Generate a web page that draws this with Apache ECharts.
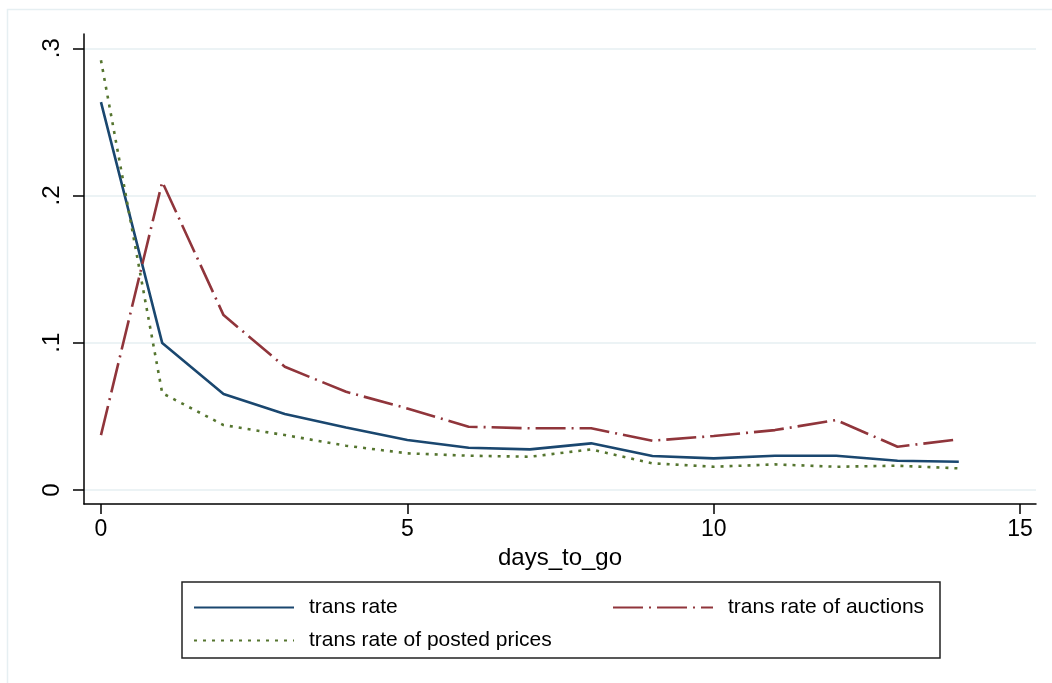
<!DOCTYPE html>
<html>
<head>
<meta charset="utf-8">
<script src="https://cdn.jsdelivr.net/npm/echarts@6/dist/echarts.min.js"></script>
<style>
html,body{margin:0;padding:0;background:#fff;}
#c{width:1052px;height:683px;}
</style>
</head>
<body>
<div id="c"></div>
<script>
// ---- data ----
var days = [0,1,2,3,4,5,6,7,8,9,10,11,12,13,14];
var transRate = [0.2634,0.0998,0.0652,0.0516,0.0425,0.0340,0.0287,0.0276,0.0317,0.0231,0.0215,0.0233,0.0233,0.0199,0.0192];
var transRateAuctions = [0.0373,0.2093,0.1188,0.0837,0.0667,0.0554,0.0430,0.0419,0.0419,0.0335,0.0367,0.0407,0.0475,0.0294,0.0344];
var transRatePosted = [0.2919,0.0658,0.0441,0.0373,0.0301,0.0249,0.0233,0.0226,0.0276,0.0181,0.0158,0.0174,0.0158,0.0165,0.0147];
var xTicks = [0,5,10,15];
var yTicks = [0,0.1,0.2,0.3];
var seriesNames = ['trans rate','trans rate of auctions','trans rate of posted prices'];

function pairs(vals){ return days.map(function(d,i){ return [d, vals[i]]; }); }

var FONT = 'Liberation Sans, Arial, sans-serif';
var chart = echarts.init(document.getElementById('c'));
var legendText = {fontFamily: FONT, fontSize: 21, color: '#000', padding: [0,0,0,10]};
var legendCommon = {padding: 0, itemWidth: 100, itemHeight: 14, textStyle: legendText, itemStyle: {opacity: 0}};
chart.setOption({
  animation: false,
  backgroundColor: '#fff',
  grid: {left: 84, right: 16, top: 34, bottom: 179, containLabel: false},
  xAxis: {
    type: 'value', min: -0.277, max: 15.26,
    name: 'days_to_go', nameLocation: 'middle', nameGap: 38,
    nameTextStyle: {fontFamily: FONT, fontSize: 24, color: '#000'},
    axisLine: {show: true, onZero: false, lineStyle: {color: '#000', width: 1.5}},
    axisTick: {show: true, length: 10, customValues: xTicks, lineStyle: {color: '#000', width: 1.5}},
    axisLabel: {customValues: xTicks, margin: 14, fontFamily: FONT, fontSize: 23, color: '#000',
      formatter: function(v){ return String(v); }},
    splitLine: {show: false}
  },
  yAxis: {
    type: 'value', min: -0.0095, max: 0.3097,
    axisLine: {show: true, onZero: false, lineStyle: {color: '#000', width: 1.5}},
    axisTick: {show: true, length: 11, customValues: yTicks, lineStyle: {color: '#000', width: 1.5}},
    axisLabel: {customValues: yTicks, rotate: 90, margin: 20, fontFamily: FONT, fontSize: 24, color: '#000',
      formatter: function(v){ return v === 0 ? '0' : String(Math.round(v*10)/10).replace(/^0/, ''); }},
    splitLine: {show: true, lineStyle: {color: '#e6eff2', width: 1.5}}
  },
  legend: [
    Object.assign({data: [seriesNames[0]], left: 193, top: 597}, legendCommon),
    Object.assign({data: [seriesNames[1]], left: 612, top: 597}, legendCommon),
    Object.assign({data: [seriesNames[2]], left: 193, top: 630}, legendCommon)
  ],
  graphic: [
    {type: 'rect', shape: {x: 7.5, y: 9.5, width: 1200, height: 800}, style: {fill: null, stroke: '#e6eff2', lineWidth: 1.5}, silent: true, z: -1},
    {type: 'rect', shape: {x: 182, y: 582, width: 758, height: 76}, style: {fill: null, stroke: '#222', lineWidth: 1.5}, silent: true}
  ],
  series: [
    {name: seriesNames[0], type: 'line', data: pairs(transRate), symbol: 'none',
      lineStyle: {color: '#1a476f', width: 2.6}, itemStyle: {color: '#1a476f'}},
    {name: seriesNames[1], type: 'line', data: pairs(transRateAuctions), symbol: 'none',
      lineStyle: {color: '#90353b', width: 2.6, type: [30,6,2,6]}, itemStyle: {color: '#90353b'}},
    {name: seriesNames[2], type: 'line', data: pairs(transRatePosted), symbol: 'none',
      lineStyle: {color: '#55752f', width: 2.6, type: [3,6]}, itemStyle: {color: '#55752f'}}
  ]
});
</script>
</body>
</html>
